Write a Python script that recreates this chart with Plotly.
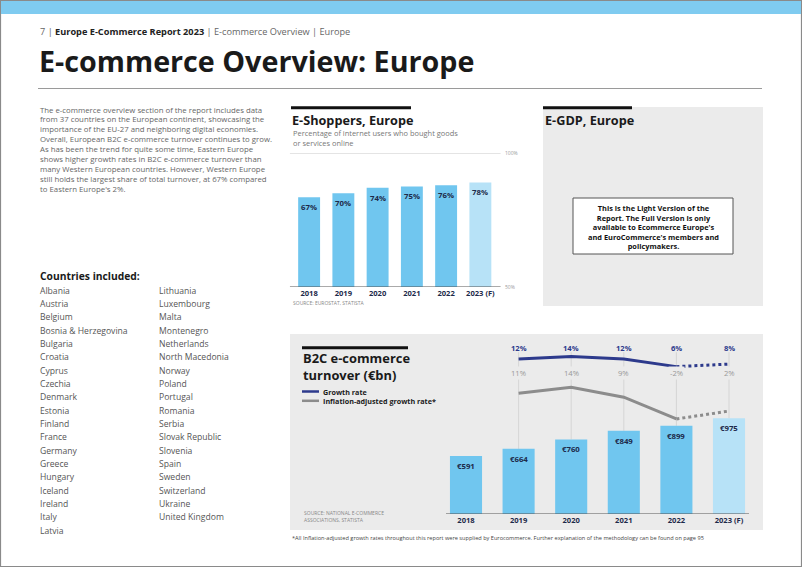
import plotly.graph_objects as go

# ---------------- data ----------------
years = ["2018", "2019", "2020", "2021", "2022", "2023 (F)"]
eshoppers_pct = [67, 70, 74, 75, 76, 78]
turnover_bn = [591, 664, 760, 849, 899, 975]
growth_rate = [None, 12, 14, 12, 6, 8]
inflation_adj_rate = [None, 11, 14, 9, -2, 2]

countries_col1 = ["Albania", "Austria", "Belgium", "Bosnia & Herzegovina", "Bulgaria", "Croatia",
                  "Cyprus", "Czechia", "Denmark", "Estonia", "Finland", "France", "Germany",
                  "Greece", "Hungary", "Iceland", "Ireland", "Italy", "Latvia"]
countries_col2 = ["Lithuania", "Luxembourg", "Malta", "Montenegro", "Netherlands", "North Macedonia",
                  "Norway", "Poland", "Portugal", "Romania", "Serbia", "Slovak Republic", "Slovenia",
                  "Spain", "Sweden", "Switzerland", "Ukraine", "United Kingdom"]

intro_lines = [
    "The e-commerce overview section of the report includes data",
    "from 37 countries on the European continent, showcasing the",
    "importance of the EU-27 and neighboring digital economies.",
    "Overall, European B2C e-commerce turnover continues to grow.",
    "As has been the trend for quite some time, Eastern Europe",
    "shows higher growth rates in B2C e-commerce turnover than",
    "many Western European countries. However, Western Europe",
    "still holds the largest share of total turnover, at 67% compared",
    "to Eastern Europe's 2%.",
]

# ---------------- styling ----------------
W, H = 802, 567
FONT = "Open Sans"
BAR = "#70c6ef"
BAR_F = "#b7e2f7"
NAVY = "#1d2a4a"
BLUE = "#2d3a8c"
GREYLINE = "#8c8c8c"
BOXGREY = "#ebebeb"
bar_colors = [BAR] * 5 + [BAR_F]
idx = list(range(len(years)))  # category positions

def X(px):
    return px / W

def Y(py):
    return 1 - py / H

annotations = []
shapes = []

def text(t, x, y, size, color="#555", bold=False, xanchor="left", yanchor="middle", align="left"):
    annotations.append(dict(
        text=f"<b>{t}</b>" if bold else t, x=X(x), y=Y(y), xref="paper", yref="paper",
        xanchor=xanchor, yanchor=yanchor, align=align, showarrow=False,
        font=dict(family=FONT, size=size, color=color)))

def rect(x0, y0, x1, y1, fill, line=None, lw=0):
    shapes.append(dict(type="rect", xref="paper", yref="paper", x0=X(x0), x1=X(x1), y0=Y(y0), y1=Y(y1),
                       fillcolor=fill, line=dict(color=line or fill, width=lw), layer="below"))

def hline(x0, x1, y, color, width):
    shapes.append(dict(type="line", xref="paper", yref="paper", x0=X(x0), x1=X(x1), y0=Y(y), y1=Y(y),
                       line=dict(color=color, width=width)))

TITLE = 12.7

# page frame + top band
rect(0.5, 0.5, 801.5, 566.5, "white", "#8a8a8a", 1.2)
rect(1, 1, 801, 14, "#7fcbf0")

# header
annotations.append(dict(
    text="7 | <span style='color:#222'><b>Europe E-Commerce Report 2023</b></span> | E-commerce Overview | Europe",
    x=X(38), y=Y(31.5), xref="paper", yref="paper", xanchor="left", yanchor="middle", showarrow=False,
    font=dict(family=FONT, size=9.2, color="#666")))
text("E-commerce Overview: Europe", 37, 60.5, 28.7, "#1a1a1a", bold=True)
hline(38, 762, 88.5, "#9a9a9a", 1)

# intro paragraph
for i, ln in enumerate(intro_lines):
    text(ln, 38, 109.5 + 9.95 * i, 7.8, "#666")

# countries
text("Countries included:", 38, 276, 10.3, "#1a1a1a", bold=True)
for i, c in enumerate(countries_col1):
    text(c, 38, 290.7 + 13.33 * i, 8.6, "#555")
for i, c in enumerate(countries_col2):
    text(c, 157, 290.7 + 13.33 * i, 8.6, "#555")

# ---------------- E-Shoppers panel ----------------
hline(291, 411, 107.8, "#111", 3)
text("E-Shoppers, Europe", 290, 119.5, TITLE, "#1a1a1a", bold=True)
text("Percentage of internet users who bought goods<br>or services online", 291, 137.8, 7.45, "#777")
text("SOURCE: EUROSTAT, STATISTA", 291, 302.5, 5, "#888")

fig = go.Figure()
fig.add_trace(go.Bar(
    x=years, y=eshoppers_pct, xaxis="x", yaxis="y", width=0.64,
    marker=dict(color=bar_colors, line=dict(width=0)), hoverinfo="skip", showlegend=False))

for i, v in zip(idx, eshoppers_pct):
    annotations.append(dict(text=f"<b>{v}%</b>", x=i, y=v, xref="x", yref="y", yanchor="top",
                            yshift=-3, showarrow=False, font=dict(family=FONT, size=7.8, color=NAVY)))
# top/bottom reference lines of the scale
shapes.append(dict(type="line", xref="x domain", yref="y", x0=-0.01, x1=1.015, y0=100, y1=100,
                   line=dict(color="#bdbdbd", width=0.8)))
shapes.append(dict(type="line", xref="x domain", yref="y", x0=-0.01, x1=1.015, y0=0, y1=0,
                   line=dict(color="#555", width=1)))
annotations.append(dict(text="100%", x=1.025, y=100, xref="x domain", yref="y", xanchor="left",
                        showarrow=False, font=dict(family=FONT, size=5, color="#999")))
annotations.append(dict(text="50%", x=1.025, y=0, xref="x domain", yref="y", xanchor="left",
                        showarrow=False, font=dict(family=FONT, size=5, color="#999")))

# ---------------- E-GDP panel ----------------
rect(543, 107, 763, 306, BOXGREY)
hline(543, 632, 107.8, "#111", 3)
text("E-GDP, Europe", 543, 119.5, TITLE, "#1a1a1a", bold=True)
rect(573, 198, 733, 254, "white", "#555", 1)
text("This is the Light Version of the<br>Report. The Full Version is only<br>available to Ecommerce Europe's"
     "<br>and EuroCommerce's members and<br>policymakers.", 653, 226.5, 7.4, "#111", bold=True,
     xanchor="center", align="center")

# ---------------- B2C panel ----------------
rect(290, 334, 763, 530, BOXGREY)
hline(302, 408, 347.8, "#111", 3)
text("B2C e-commerce<br>turnover (€bn)", 301, 366.8, TITLE + 0.2, "#1a1a1a", bold=True)
hline(302, 319, 391.5, BLUE, 2.5)
hline(302, 319, 400.8, GREYLINE, 2.5)
text("Growth rate<br>Inflation-adjusted growth rate*", 321, 396.2, 7.2, "#1a1a1a", bold=True)
text("SOURCE: NATIONAL E-COMMERCE<br>ASSOCIATIONS, STATISTA", 302, 516.7, 5, "#888")

Y2_MAX = 1774
fig.add_trace(go.Bar(
    x=years, y=turnover_bn, xaxis="x2", yaxis="y2", width=0.61,
    marker=dict(color=bar_colors, line=dict(width=0)), hoverinfo="skip", showlegend=False))
for i, v in zip(idx, turnover_bn):
    annotations.append(dict(text=f"<b>€{v}</b>", x=i, y=v, xref="x2", yref="y2", yanchor="top",
                            yshift=-3, showarrow=False, font=dict(family=FONT, size=7.8, color=NAVY)))
# thin guide lines from the rate labels down to the bars
for i, v in zip(idx[1:], turnover_bn[1:]):
    shapes.append(dict(type="line", xref="x2", yref="y2", x0=i, x1=i, y0=v, y1=Y2_MAX * 0.93,
                       line=dict(color="#cfcfcf", width=0.8), layer="below"))
shapes.append(dict(type="line", xref="x2 domain", yref="y2", x0=0.02, x1=0.98, y0=0, y1=0,
                   line=dict(color="#555", width=1)))

# growth rate lines (solid actuals, dotted forecast)
fig.add_trace(go.Scatter(x=years[1:5], y=growth_rate[1:5], xaxis="x2", yaxis="y3", mode="lines",
                         line=dict(color=BLUE, width=3), hoverinfo="skip", showlegend=False))
fig.add_trace(go.Scatter(x=years[4:6], y=growth_rate[4:6], xaxis="x2", yaxis="y3", mode="lines",
                         line=dict(color=BLUE, width=3, dash="dot"), hoverinfo="skip", showlegend=False))
fig.add_trace(go.Scatter(x=years[1:5], y=inflation_adj_rate[1:5], xaxis="x2", yaxis="y4", mode="lines",
                         line=dict(color=GREYLINE, width=3), hoverinfo="skip", showlegend=False))
fig.add_trace(go.Scatter(x=years[4:6], y=inflation_adj_rate[4:6], xaxis="x2", yaxis="y4", mode="lines",
                         line=dict(color=GREYLINE, width=3, dash="dot"), hoverinfo="skip", showlegend=False))

for i, g, f in zip(idx[1:], growth_rate[1:], inflation_adj_rate[1:]):
    annotations.append(dict(text=f"<b>{g}%</b>", x=i, y=Y(348.3), xref="x2", yref="paper",
                            showarrow=False, font=dict(family=FONT, size=7.6, color=BLUE)))
    annotations.append(dict(text=f"{f}%", x=i, y=Y(379.5), xref="x2", yref="paper",
                            showarrow=False, font=dict(family=FONT, size=7.6, color="#999"),
                            bgcolor=BOXGREY))

# footnote
text("*All Inflation-adjusted growth rates throughout this report were supplied by Eurocommerce. "
     "Further explanation of the methodology can be found on page 95", 290, 537.5, 5.6, "#444")

axis_tick = dict(family=FONT, size=7.6, color=NAVY, weight="bold")
fig.update_layout(
    width=W, height=H, autosize=False,
    margin=dict(l=0, r=0, t=0, b=0),
    paper_bgcolor="white", plot_bgcolor="rgba(0,0,0,0)",
    showlegend=False,
    xaxis=dict(domain=[X(292), X(497.5)], anchor="y", type="category", range=[-0.5, 5.5],
               showgrid=False, zeroline=False, showline=False, ticks="", tickfont=axis_tick,
               fixedrange=True),
    yaxis=dict(domain=[Y(287), Y(153)], range=[0, 100], visible=False, fixedrange=True),
    xaxis2=dict(domain=[X(439.7), X(755.3)], anchor="y2", type="category", range=[-0.5, 5.5],
                showgrid=False, zeroline=False, showline=False, ticks="", tickfont=axis_tick,
                fixedrange=True),
    yaxis2=dict(domain=[Y(514), Y(340)], range=[0, Y2_MAX], visible=False, fixedrange=True),
    yaxis3=dict(overlaying="y2", range=[-109.1, 26.8], visible=False, fixedrange=True),
    yaxis4=dict(overlaying="y2", range=[-50, 37.9], visible=False, fixedrange=True),
    shapes=shapes,
    annotations=annotations,
)

fig.write_html("out.html", config={"displayModeBar": False},
               post_script="document.body.style.margin='0';document.body.style.overflow='hidden';")
